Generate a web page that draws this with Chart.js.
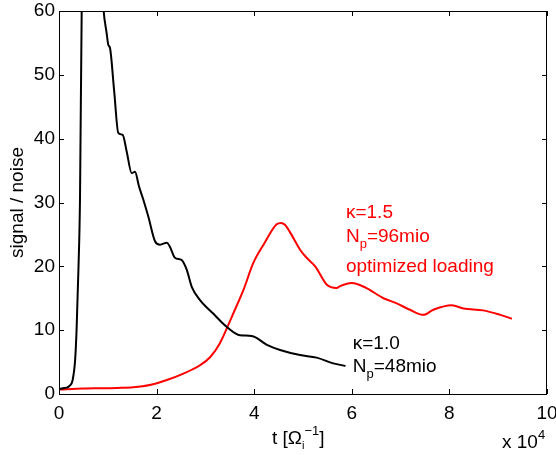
<!DOCTYPE html>
<html>
<head>
<meta charset="utf-8">
<script src="https://cdn.jsdelivr.net/npm/chart.js@4"></script>
<style>
  body { margin: 0; background: #fff; }
  .chart-wrap { width: 556px; height: 455px; position: relative; }
</style>
</head>
<body>
<div class="chart-wrap"><canvas id="chart"></canvas></div>
<script>
// time in units of 10^4 / Omega_i
const blackT = [0, 0.08, 0.16, 0.22, 0.28, 0.33, 0.36, 0.40, 0.43, 0.465, 0.55, 0.65, 0.8, 0.915, 0.977, 1.01, 1.045, 1.13, 1.215, 1.305, 1.387, 1.49, 1.557, 1.64, 1.73, 1.83, 1.97, 2.07, 2.21, 2.27, 2.38, 2.51, 2.62, 2.72, 2.89, 3.16, 3.44, 3.71, 3.95, 4.26, 4.53, 4.94, 5.28, 5.62, 5.87];
const blackV = [0.8, 0.9, 1.0, 1.3, 2.2, 5.3, 10, 20, 30.4, 60, 80, 85, 75, 60, 56.5, 54.7, 54.2, 47.5, 40.9, 40.6, 38, 34.6, 34.8, 32.5, 30.4, 27.8, 23.9, 23.4, 23.7, 23.1, 21.3, 21.0, 19.4, 16.8, 14.7, 12.6, 10.5, 9.2, 9.1, 7.7, 6.9, 6.1, 5.7, 4.8, 4.4];

const redT = [0, 0.5, 0.84, 1.2, 1.52, 1.86, 2.21, 2.55, 2.89, 3.1, 3.3, 3.57, 3.78, 3.98, 4.2, 4.46, 4.55, 4.63, 4.73, 4.94, 5.08, 5.25, 5.49, 5.69, 5.76, 6.0, 6.3, 6.65, 6.92, 7.19, 7.47, 7.67, 8.05, 8.29, 8.69, 9.04, 9.28];
const redV = [0.7, 0.85, 0.9, 0.95, 1.05, 1.4, 2.2, 3.2, 4.5, 5.8, 8.0, 12.6, 16.3, 20.5, 23.5, 26.6, 26.8, 26.5, 25.4, 22.6, 21.3, 20, 17.1, 16.6, 16.9, 17.4, 16.6, 15.0, 14.2, 13.2, 12.4, 13.2, 13.9, 13.4, 13.1, 12.4, 11.8];

const xTicks = [0, 2, 4, 6, 8, 10];
const yTicks = [0, 10, 20, 30, 40, 50, 60];

const FONT = "'Liberation Sans', Arial, sans-serif";
const FS = 19;

function toPoints(ts, vs) {
  return ts.map((t, i) => ({ x: t, y: vs[i] }));
}

// text with sub/superscript pieces
function drawRich(ctx, parts, x, y, color) {
  ctx.fillStyle = color;
  ctx.textBaseline = 'alphabetic';
  ctx.textAlign = 'left';
  let cx = x;
  parts.forEach((p) => {
    ctx.font = `${p.size || FS}px ${FONT}`;
    ctx.fillText(p.text, cx, y + (p.dy || 0));
    cx += ctx.measureText(p.text).width;
  });
}

// no label overhang padding, so the plot box stays where the layout puts it
function noPad(s) {
  s.paddingLeft = 0;
  s.paddingRight = 0;
  s.paddingTop = 0;
  s.paddingBottom = 0;
}

const framePlugin = {
  id: 'frame',
  afterDraw(chart) {
    const { ctx, chartArea: a, scales } = chart;
    ctx.save();
    ctx.strokeStyle = '#000';
    ctx.lineWidth = 1;
    ctx.strokeRect(a.left + 0.5, a.top + 0.5, a.right - a.left - 1, a.bottom - a.top);
    const tl = 5;
    ctx.beginPath();
    xTicks.forEach((v) => {
      const px = Math.round(scales.x.getPixelForValue(v)) + 0.5;
      ctx.moveTo(px, a.bottom); ctx.lineTo(px, a.bottom - tl);
      ctx.moveTo(px, a.top); ctx.lineTo(px, a.top + tl);
    });
    yTicks.forEach((v) => {
      const py = Math.round(scales.y.getPixelForValue(v)) + 0.5;
      ctx.moveTo(a.left, py); ctx.lineTo(a.left + tl, py);
      ctx.moveTo(a.right, py); ctx.lineTo(a.right - tl, py);
    });
    ctx.stroke();

    const sx = (v) => scales.x.getPixelForValue(v);
    const sy = (v) => scales.y.getPixelForValue(v);

    // curve labels
    drawRich(ctx, [{ text: 'κ=1.5' }], sx(5.88), sy(27.5), '#ff0000');
    drawRich(ctx, [{ text: 'N' }, { text: 'p', size: 13, dy: 6 }, { text: '=96mio' }], sx(5.88), sy(23.8), '#ff0000');
    drawRich(ctx, [{ text: 'optimized loading' }], sx(5.88), sy(19.1), '#ff0000');
    drawRich(ctx, [{ text: 'κ=1.0' }], sx(6.02), sy(7.0), '#000');
    drawRich(ctx, [{ text: 'N' }, { text: 'p', size: 13, dy: 6 }, { text: '=48mio' }], sx(6.02), sy(3.5), '#000');

    // axis titles
    drawRich(ctx, [
      { text: 't [Ω' },
      { text: 'i', size: 11, dy: 5 },
      { text: '−1', size: 13, dy: -9 },
      { text: ']' }
    ], 272, 444, '#000');
    drawRich(ctx, [{ text: 'x 10' }, { text: '4', size: 13, dy: -9 }], 502, 448, '#000');

    ctx.translate(23, (a.top + a.bottom) / 2);
    ctx.rotate(-Math.PI / 2);
    ctx.font = `${FS}px ${FONT}`;
    ctx.textAlign = 'center';
    ctx.textBaseline = 'alphabetic';
    ctx.fillStyle = '#000';
    ctx.fillText('signal / noise', 0, 0);
    ctx.restore();
  }
};

new Chart(document.getElementById('chart'), {
  type: 'line',
  data: {
    datasets: [
      {
        label: 'kappa=1.0',
        data: toPoints(blackT, blackV),
        borderColor: '#000',
        borderWidth: 2,
        pointRadius: 0,
        cubicInterpolationMode: 'monotone',
        clip: 0
      },
      {
        label: 'kappa=1.5',
        data: toPoints(redT, redV),
        borderColor: '#ff0000',
        borderWidth: 2,
        pointRadius: 0,
        cubicInterpolationMode: 'monotone',
        clip: 0
      }
    ]
  },
  options: {
    responsive: true,
    maintainAspectRatio: false,
    animation: false,
    events: [],
    layout: { padding: { top: 11, right: 9, left: 0, bottom: 0 } },
    plugins: { legend: { display: false }, tooltip: { enabled: false } },
    scales: {
      x: {
        type: 'linear',
        min: 0,
        max: 10,
        afterFit: (s) => { s.height = 61; noPad(s); },
        afterBuildTicks: (s) => { s.ticks = xTicks.map((v) => ({ value: v })); },
        grid: { display: false, drawTicks: false },
        border: { display: false },
        ticks: { color: '#000', padding: 8, maxRotation: 0, font: { family: FONT, size: FS } }
      },
      y: {
        type: 'linear',
        min: 0,
        max: 60,
        afterFit: (s) => { s.width = 59; noPad(s); },
        afterBuildTicks: (s) => { s.ticks = yTicks.map((v) => ({ value: v })); },
        grid: { display: false, drawTicks: false },
        border: { display: false },
        ticks: { color: '#000', padding: 4, font: { family: FONT, size: FS } }
      }
    }
  },
  plugins: [framePlugin]
});
</script>
</body>
</html>
